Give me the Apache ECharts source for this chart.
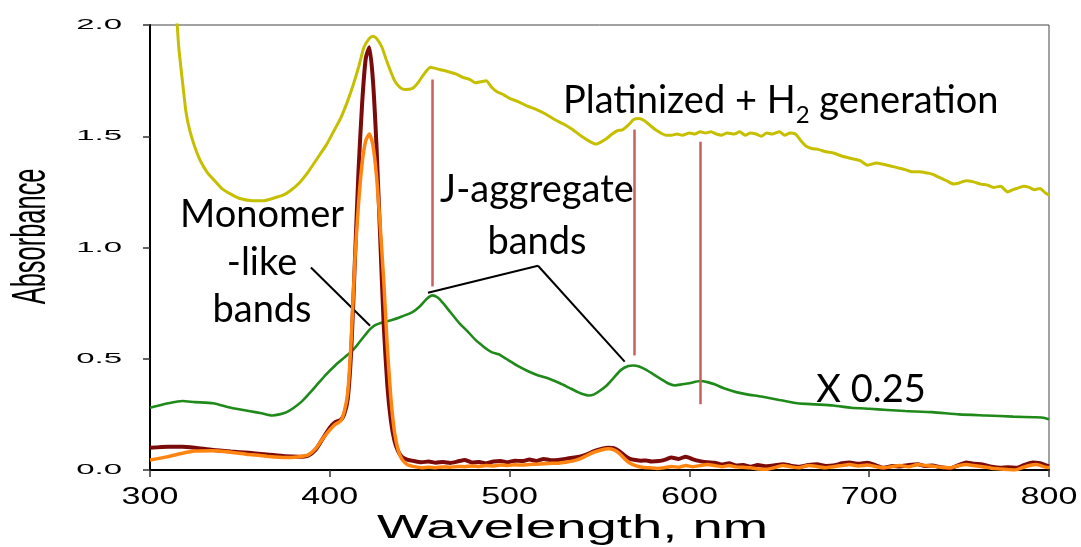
<!DOCTYPE html>
<html>
<head>
<meta charset="utf-8">
<script src="https://cdn.jsdelivr.net/npm/echarts@6/dist/echarts.min.js"></script>
<style>
  html, body { margin: 0; padding: 0; background: #fff; }
  #chart { width: 1081px; height: 547px; }
</style>
</head>
<body>
<div id="chart"></div>
<script>
// Axis ticks
const xTicks = [300, 400, 500, 600, 700, 800];
const yTicks = [0, 0.5, 1.0, 1.5, 2.0];
const yTickLabels = ['0.0', '0.5', '1.0', '1.5', '2.0'];
const xAxisTitle = 'Wavelength, nm';
const yAxisTitle = 'Absorbance';

// Platinized film after H2 generation
const platWl = [315,316,318,320,322,325,328,332,336,340,345,350,357,363,368,374,378,383,388,393,398,402,406,410,413,416,419,422,424,426,429,432,436,439,442,446,449,452,456,461,466,470,474,478,481,484,487,490,493,497,500,505,510,515,520,525,530,535,540,545,548,551,554,557,560,563,566,569,572,575,578,581,584,587,590,593,596,600,603,606,609,612,615,618,621,625,628,631,634,637,640,643,646,650,653,656,659,662,665,668,672,676,680,685,690,695,699,704,710,715,720,724,728,732,735,739,743,747,750,754,758,762,766,769,773,777,780,782,786,789,792,795,798,800];
const platAbs = [2.02,1.90,1.75,1.61,1.53,1.45,1.39,1.335,1.30,1.265,1.24,1.22,1.21,1.21,1.22,1.235,1.255,1.29,1.34,1.40,1.46,1.52,1.58,1.66,1.73,1.81,1.90,1.94,1.95,1.94,1.90,1.83,1.75,1.72,1.71,1.715,1.74,1.775,1.81,1.80,1.79,1.78,1.765,1.755,1.74,1.745,1.75,1.72,1.70,1.685,1.67,1.655,1.635,1.62,1.60,1.575,1.555,1.53,1.50,1.475,1.465,1.475,1.49,1.51,1.525,1.53,1.55,1.575,1.58,1.57,1.55,1.53,1.515,1.505,1.505,1.51,1.505,1.515,1.51,1.52,1.515,1.52,1.51,1.505,1.515,1.51,1.52,1.505,1.515,1.51,1.50,1.515,1.51,1.52,1.505,1.515,1.51,1.48,1.455,1.445,1.44,1.43,1.425,1.41,1.40,1.39,1.37,1.38,1.37,1.36,1.35,1.34,1.34,1.335,1.33,1.315,1.30,1.285,1.29,1.30,1.295,1.285,1.28,1.27,1.275,1.25,1.26,1.265,1.275,1.27,1.26,1.265,1.245,1.235];

// Film spectrum scaled by 0.25
const filmWl = [300,305,310,318,325,335,345,355,362,368,372,376,380,384,387,392,398,403,408,413,418,422,425,430,435,440,446,450,454,457,460,463,467,472,477,481,484,487,490,494,498,504,510,516,522,528,533,538,541,544,547,550,554,558,562,566,569,572,576,580,584,588,592,596,600,606,610,614,620,626,632,640,650,660,670,680,690,700,710,720,735,750,765,780,792,797,800];
const filmAbs = [0.28,0.29,0.30,0.31,0.305,0.30,0.28,0.265,0.255,0.245,0.25,0.26,0.28,0.305,0.33,0.375,0.43,0.47,0.505,0.54,0.59,0.63,0.65,0.665,0.675,0.69,0.71,0.735,0.77,0.785,0.775,0.75,0.71,0.66,0.62,0.585,0.565,0.545,0.53,0.52,0.50,0.47,0.445,0.425,0.41,0.39,0.37,0.35,0.34,0.335,0.34,0.355,0.38,0.415,0.45,0.467,0.47,0.465,0.45,0.43,0.41,0.39,0.38,0.385,0.39,0.40,0.395,0.385,0.365,0.35,0.34,0.33,0.315,0.30,0.295,0.29,0.28,0.275,0.27,0.265,0.26,0.25,0.245,0.24,0.237,0.235,0.228];

// Solution spectra (two samples)
const solAWl = [300,310,318,325,335,345,355,365,375,383,388,392,396,400,403,406,408,410,412,414,416,418,420,422,424,426,428,430,432,434,436,438,440,443,447,451,455,459,463,467,471,475,479,483,487,491,495,499,503,507,511,515,519,523,527,531,535,539,543,547,551,555,558,561,564,567,570,573,576,579,583,587,590,594,598,602,606,610,614,618,622,626,630,634,638,643,647,652,656,661,666,671,676,680,685,689,694,699,704,708,713,717,722,727,731,735,740,745,749,754,758,763,768,773,777,782,786,791,795,798,800];
const solAAbs = [0.10,0.105,0.105,0.10,0.09,0.083,0.077,0.07,0.062,0.06,0.065,0.09,0.14,0.19,0.215,0.225,0.25,0.32,0.55,0.95,1.35,1.65,1.85,1.90,1.75,1.45,1.05,0.65,0.38,0.22,0.13,0.085,0.06,0.047,0.04,0.035,0.038,0.033,0.036,0.032,0.038,0.045,0.034,0.036,0.03,0.038,0.04,0.035,0.042,0.04,0.047,0.041,0.05,0.044,0.045,0.05,0.055,0.06,0.07,0.085,0.095,0.10,0.098,0.085,0.065,0.05,0.045,0.042,0.043,0.038,0.04,0.048,0.056,0.05,0.06,0.048,0.04,0.035,0.033,0.025,0.03,0.02,0.022,0.015,0.022,0.017,0.02,0.026,0.02,0.015,0.022,0.026,0.018,0.02,0.03,0.034,0.028,0.033,0.02,0.01,0.018,0.016,0.022,0.026,0.018,0.02,0.012,0.007,0.02,0.034,0.028,0.025,0.015,0.01,0.012,0.01,0.022,0.034,0.03,0.022,0.016];

const solBWl = [300,310,318,325,335,345,355,365,375,383,388,392,396,400,403,406,408,410,412,414,416,418,420,422,424,426,428,430,432,434,436,438,440,443,447,451,455,459,463,467,471,475,479,483,487,491,495,499,503,507,511,515,519,523,527,531,535,539,543,547,551,555,558,561,564,567,570,574,578,582,586,590,594,598,602,606,610,614,618,622,626,630,634,638,643,647,652,656,661,666,671,676,680,685,689,694,699,704,708,713,717,722,727,731,735,740,745,749,754,758,763,768,773,777,781,785,789,793,797,800];
const solBAbs = [0.045,0.06,0.075,0.085,0.087,0.08,0.07,0.062,0.056,0.06,0.068,0.095,0.14,0.18,0.205,0.22,0.26,0.35,0.60,0.95,1.20,1.38,1.48,1.51,1.46,1.32,1.10,0.85,0.55,0.32,0.17,0.09,0.05,0.025,0.015,0.01,0.012,0.01,0.014,0.012,0.016,0.015,0.018,0.016,0.02,0.018,0.022,0.02,0.024,0.022,0.025,0.026,0.028,0.03,0.03,0.035,0.04,0.05,0.065,0.08,0.09,0.095,0.09,0.075,0.05,0.03,0.02,0.012,0.01,0.007,0.01,0.016,0.012,0.02,0.015,0.02,0.025,0.02,0.015,0.02,0.014,0.012,0.01,0.005,0.003,0.01,0.02,0.015,0.01,0.02,0.016,0.01,0.015,0.02,0.025,0.018,0.022,0.015,0.01,0.016,0.02,0.015,0.025,0.02,0.018,0.012,0.01,0.018,0.025,0.02,0.015,0.008,0.005,0.002,0.0,0.01,0.02,0.025,0.015,0.01];

// Band markers: wavelength and the absorbance span of each vertical line
const bandWl   = [457, 569.5, 606];
const bandFrom = [1.755, 1.53, 1.475];
const bandTo   = [0.825, 0.515, 0.295];

// Leader lines from the labels to the bands, in data units
const leaders = [
  [[389.5, 0.91], [422.4, 0.648]],
  [[454.6, 0.797], [515.8, 0.918]],
  [[515.8, 0.918], [564.0, 0.487]]
];

// Text annotations, anchored in data units
const notes = [
  { text: 'Monomer', at: [362.3, 1.147] },
  { text: '-like', at: [362.3, 0.93] },
  { text: 'bands', at: [362.3, 0.72] },
  { text: 'J-aggregate', at: [515.2, 1.259] },
  { text: 'bands', at: [515.2, 1.026] },
  { text: 'X 0.25', at: [701, 0.361] }
];
const platNote = { main: 'Platinized + H', sub: '2', tail: ' generation', at: [529.7, 1.658] };

const pair = (w, a) => w.map((x, i) => [x, a[i]]);

const chart = echarts.init(document.getElementById('chart'), null, { renderer: 'canvas' });

const lineSeries = (data, color, width, z) => ({
  type: 'line',
  data: data,
  showSymbol: false,
  symbol: 'none',
  smooth: 0.2,
  clip: true,
  z: z,
  lineStyle: { color: color, width: width },
  emphasis: { disabled: true }
});

const filmSeries = lineSeries(pair(filmWl, filmAbs), '#1f8a1a', 2.6, 2);
filmSeries.markLine = {
  silent: true,
  symbol: ['none', 'none'],
  animation: false,
  label: { show: false },
  lineStyle: { color: '#c8605f', width: 2.5, type: 'solid' },
  emphasis: { disabled: true },
  data: bandWl.map((w, i) => [{ coord: [w, bandFrom[i]] }, { coord: [w, bandTo[i]] }])
};

const platSeries = lineSeries(pair(platWl, platAbs), '#c6bf00', 3, 3);
platSeries.markLine = {
  silent: true,
  symbol: ['none', 'none'],
  animation: false,
  label: { show: false },
  lineStyle: { color: '#000', width: 2, type: 'solid' },
  emphasis: { disabled: true },
  data: leaders.map(l => [{ coord: l[0] }, { coord: l[1] }])
};

const option = {
  animation: false,
  backgroundColor: '#fff',
  grid: {
    left: 150, right: 32, top: 25, bottom: 77,
    show: true, borderColor: '#444', borderWidth: 1, backgroundColor: 'transparent'
  },
  xAxis: {
    type: 'value', min: 300, max: 800, interval: 100,
    axisLine: { show: true, onZero: false, lineStyle: { color: '#000', width: 2 } },
    axisTick: { show: true, length: 7, lineStyle: { color: '#333', width: 1.5 } },
    axisLabel: { show: false },
    splitLine: { show: false }
  },
  yAxis: {
    type: 'value', min: 0, max: 2, interval: 0.5,
    axisLine: { show: true, onZero: false, lineStyle: { color: '#000', width: 2 } },
    axisTick: { show: true, length: 7, lineStyle: { color: '#333', width: 1.5 } },
    axisLabel: { show: false },
    splitLine: { show: false }
  },
  series: [
    filmSeries,
    platSeries,
    lineSeries(pair(solAWl, solAAbs), '#7b0a0a', 4, 4),
    lineSeries(pair(solBWl, solBAbs), '#ff8410', 3.5, 5)
  ]
};
chart.setOption(option);

// Axis labels and annotations drawn as scaled text at positions from the axes
const toPx = (p) => chart.convertToPixel({ gridIndex: 0 }, p);
const graphics = [];
const axisFont = '"Liberation Sans", Arial, sans-serif';
const noteFont = 'Lato, "Noto Sans", sans-serif';
const noteSize = 38;

yTicks.forEach((v, i) => {
  const p = toPx([300, v]);
  graphics.push({
    type: 'text', x: p[0] - 28, y: p[1], scaleX: 2.2, silent: true,
    style: { text: yTickLabels[i], fontSize: 15, fontFamily: axisFont, fill: '#000', align: 'right', verticalAlign: 'middle' }
  });
});
xTicks.forEach((v) => {
  const p = toPx([v, 0]);
  graphics.push({
    type: 'text', x: p[0], y: p[1] + 27, scaleX: 1.42, silent: true,
    style: { text: String(v), fontSize: 24, fontFamily: axisFont, fill: '#000', align: 'center', verticalAlign: 'middle' }
  });
});
{
  const a = toPx([300, 0]), b = toPx([800, 0]);
  graphics.push({
    type: 'text', x: (a[0] + b[0]) / 2 - 27, y: a[1] + 59, scaleX: 1.6, silent: true,
    style: { text: xAxisTitle, fontSize: 34, fontFamily: axisFont, fill: '#000', align: 'center', verticalAlign: 'middle' }
  });
  const c = toPx([300, 1.05]);
  graphics.push({
    type: 'text', x: c[0] - 118, y: c[1], scaleX: 0.53, rotation: Math.PI / 2, silent: true,
    style: { text: yAxisTitle, fontSize: 48, fontFamily: axisFont, fill: '#000', align: 'center', verticalAlign: 'middle' }
  });
}
notes.forEach((n) => {
  const p = toPx(n.at);
  graphics.push({
    type: 'text', x: p[0], y: p[1], silent: true,
    style: { text: n.text, fontSize: noteSize, fontFamily: noteFont, fill: '#000', align: 'center', verticalAlign: 'middle' }
  });
});
{
  const p = toPx(platNote.at);
  graphics.push({
    type: 'text', x: p[0], y: p[1], silent: true,
    style: {
      text: '{m|' + platNote.main + '}{s|' + platNote.sub + '}{m|' + platNote.tail + '}',
      align: 'left', verticalAlign: 'middle',
      rich: {
        m: { fontSize: noteSize, fontFamily: noteFont, fill: '#000' },
        s: { fontSize: 24, fontFamily: noteFont, fill: '#000', padding: [28, 0, 0, 0] }
      }
    }
  });
}
chart.setOption({ graphic: graphics });
</script>
</body>
</html>
